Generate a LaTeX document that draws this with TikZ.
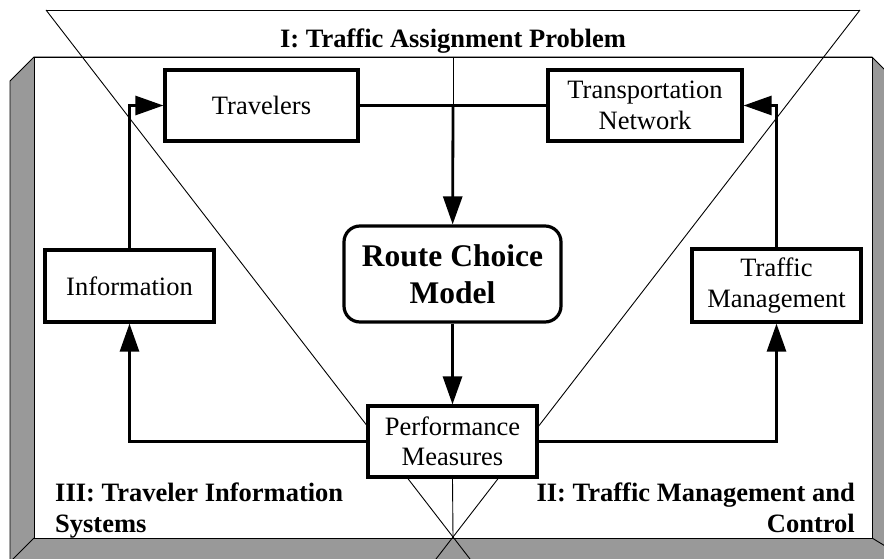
\documentclass[tikz,border=0pt]{standalone}
\usepackage{fontspec}
\setmainfont{Liberation Serif}
\usetikzlibrary{arrows.meta,calc}
\definecolor{bevel}{RGB}{153,153,153}
\newcommand\boxfont{\fontsize{26.5pt}{30.5pt}\selectfont}
\newcommand\modelfont{\fontsize{31.5pt}{37pt}\selectfont\bfseries}
\newcommand\labelfont{\fontsize{26.5pt}{31pt}\selectfont\bfseries}
\begin{document}
\begin{tikzpicture}[x=1pt,y=-1pt,
  thinline/.style={draw=black, line width=0.9pt},
  stepbox/.style={draw, line width=3.2pt, fill=white, inner sep=0pt,
    align=center, font=\boxfont},
  modelbox/.style={stepbox, rounded corners=16pt, font=\modelfont},
  flow/.style={line width=2.8pt},
  arr/.style={flow, -{Triangle[length=28pt,width=19pt]}},
  region/.style={inner sep=0pt, font=\labelfont}]

\useasboundingbox (0,0) rectangle (884,559);
\clip (0,0) rectangle (884,559);
\fill[white] (0,0) rectangle (884,559);

% bevelled frame round the panel
\filldraw[fill=bevel, thinline] (34,57) -- (10,81) -- (10,600) -- (900,600)
  -- (900,85) -- (872,57) -- cycle;
\filldraw[fill=white, thinline] (34,57) rectangle (872,538);
\draw[thinline] (34,538) -- (10,562) (872,538) -- (900,555);

% sector dividers
\coordinate (tl) at (46,10);
\coordinate (tr) at (860,10);
\coordinate (apex) at (453,537);
\coordinate (ptop) at (453,57);
\coordinate (j) at (453,105.5);
\draw[thinline] (tl) -- (tr);
\draw[thinline] (tl) -- ($(tl)!1.07!(apex)$);
\draw[thinline] (tr) -- ($(tr)!1.07!(apex)$);

% boxes
\node[stepbox, minimum width=193pt, minimum height=71pt] (trav) at (261.5,105.5) {Travelers};
\node[stepbox, minimum width=194pt, minimum height=71pt] (tn) at (645,105.5) {Transportation\\Network};
\node[modelbox, minimum width=217pt, minimum height=96pt] (rcm) at (452.5,274) {Route Choice\\Model};
\node[stepbox, minimum width=169pt, minimum height=72pt] (info) at (129.5,286) {Information};
\node[stepbox, minimum width=169pt, minimum height=73pt] (tm) at (776.5,285.5) {Traffic\\Management};
\node[stepbox, minimum width=169pt, minimum height=71pt] (perf) at (452.5,441.5) {Performance\\Measures};

\draw[thinline] (ptop) -- (j);
\draw[thinline] (perf.south) -- (apex);

% flows
\draw[flow] (trav) -- (tn);
\draw[arr] (j) -- (rcm);
\draw[arr] (rcm) -- (perf);
\draw[arr] (perf.west) -| (info.south);
\draw[arr] (perf.east) -| (tm.south);
\draw[arr] (info.north) |- (trav.west);
\draw[arr] (tm.north) |- (tn.east);

% region titles (base anchor sits on the last line)
\node[region, anchor=base] (t1) at (453,48) {I: Traffic Assignment Problem};
\node[region, anchor=base west, align=left] (t3) at (55,532) {III: Traveler Information\\Systems};
\node[region, anchor=base east, align=right] (t2) at (855,532) {II: Traffic Management and\\Control};
\end{tikzpicture}
\end{document}
